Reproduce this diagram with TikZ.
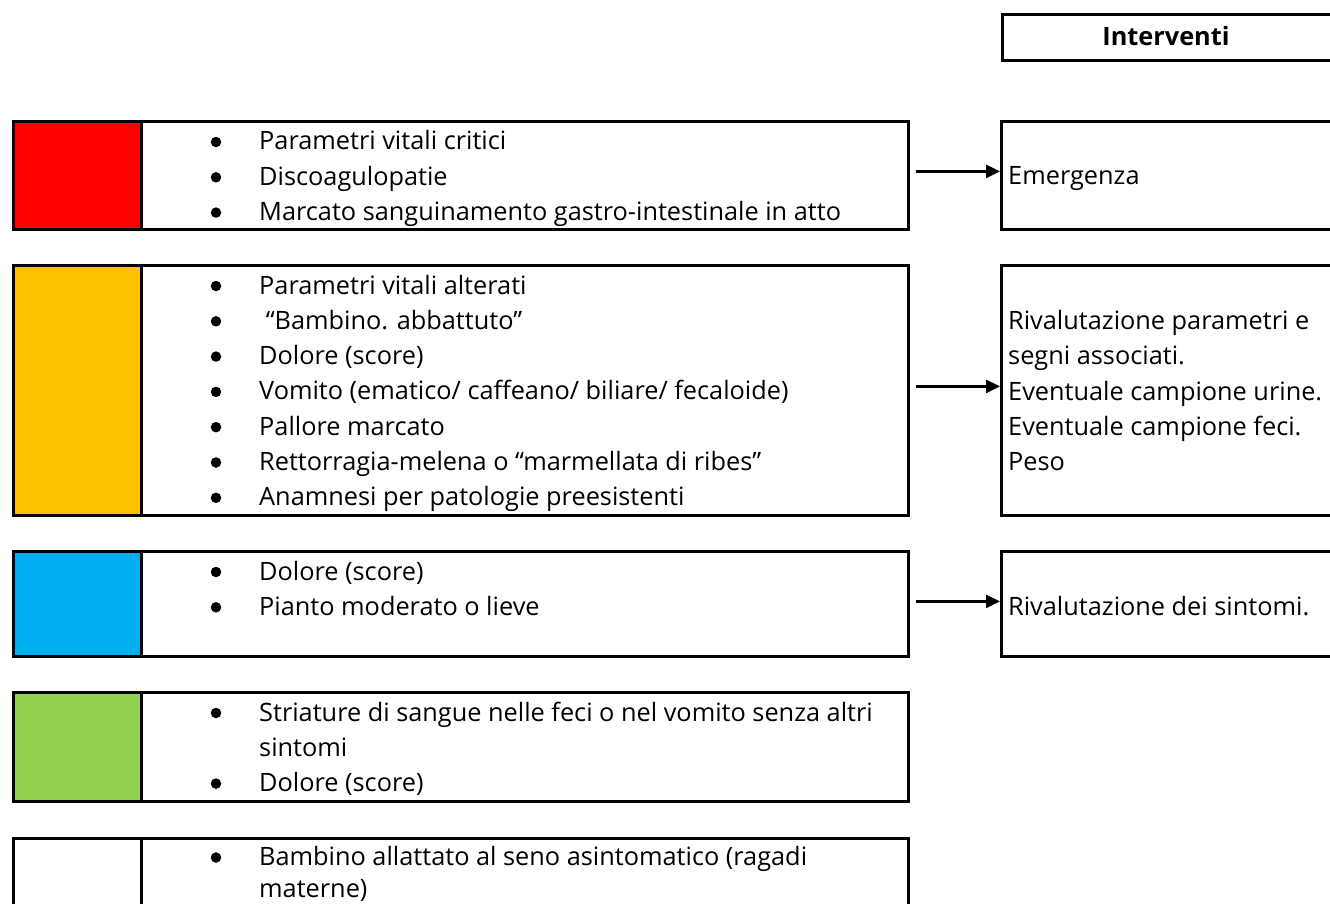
\documentclass[tikz,border=0pt]{standalone}
\usepackage{fontspec}
\setmainfont{Open Sans}
\usetikzlibrary{arrows.meta}
\definecolor{tred}{HTML}{FF0000}
\definecolor{torange}{HTML}{FFC000}
\definecolor{tblue}{HTML}{00B0F0}
\definecolor{tgreen}{HTML}{92D050}
\begin{document}
\begin{tikzpicture}[x=1pt,y=-1pt,
  box/.style={draw=black,line width=2.8pt,inner sep=0pt,anchor=north west},
  codebox/.style={box,minimum width=128pt},
  listbox/.style={box,minimum width=767pt},
  actbox/.style={box,minimum width=345pt},
  txt/.style={anchor=base west,inner sep=0pt,font=\fontsize{25.3}{30}\selectfont},
  dot/.style={circle,fill=black,inner sep=0pt,minimum size=10.5pt},
  link/.style={line width=2.6pt,-{Triangle[length=14pt,width=13pt]}}]
\useasboundingbox (0,0) rectangle (1330,904);

% header
\node[box,minimum width=345pt,minimum height=46pt] (head) at (1001,13) {};
\node[txt,anchor=base,font=\fontsize{25.3}{30}\selectfont\bfseries] (headtxt) at (1166,46) {Interventi};

% red code
\node[codebox,fill=tred,minimum height=108pt] (c1) at (12,120) {};
\node[listbox,minimum height=108pt] (l1) at (140,120) {};
\foreach [count=\i] \t in {Parametri vitali critici,Discoagulopatie,Marcato sanguinamento gastro-intestinale in atto}{
  \node[txt] (l1t\i) at (259,{150+35.3*(\i-1)}) {\t};
  \node[dot] (l1b\i) at (216,{150+35.3*(\i-1)-8}) {};
}
\node[actbox,minimum height=108pt] (a1) at (1000,120) {};
\node[txt] (a1t) at (1008,185) {Emergenza};
\draw[link] ([xshift=6pt,yshift=4pt]l1.east) -- ([yshift=4pt]a1.west);

% orange code
\node[codebox,fill=torange,minimum height=250pt] (c2) at (12,264) {};
\node[listbox,minimum height=250pt] (l2) at (140,264) {};
\foreach [count=\i] \t in {Parametri vitali alterati,\ “Bambino. abbattuto”,Dolore (score),Vomito (ematico/ caffeano/ biliare/ fecaloide),Pallore marcato,Rettorragia-melena o “marmellata di ribes”,Anamnesi per patologie preesistenti}{
  \node[txt] (l2t\i) at (259,{294+35.3*(\i-1)}) {\t};
  \node[dot] (l2b\i) at (216,{294+35.3*(\i-1)-8}) {};
}
\node[actbox,minimum height=250pt] (a2) at (1000,264) {};
\foreach [count=\i] \t in {Rivalutazione parametri e,segni associati.,Eventuale campione urine.,Eventuale campione feci.,Peso}{
  \node[txt] (a2t\i) at (1008,{329.5+35.3*(\i-1)}) {\t};
}
\draw[link] ([xshift=6pt,yshift=4pt]l2.east) -- ([yshift=4pt]a2.west);

% blue code
\node[codebox,fill=tblue,minimum height=105pt] (c3) at (12,550) {};
\node[listbox,minimum height=105pt] (l3) at (140,550) {};
\foreach [count=\i] \t in {Dolore (score),Pianto moderato o lieve}{
  \node[txt] (l3t\i) at (259,{580+35.3*(\i-1)}) {\t};
  \node[dot] (l3b\i) at (216,{580+35.3*(\i-1)-8}) {};
}
\node[actbox,minimum height=105pt] (a3) at (1000,550) {};
\node[txt] (a3t) at (1008,615) {Rivalutazione dei sintomi.};
\draw[link] ([xshift=6pt,yshift=2.5pt]l3.east) -- ([yshift=2.5pt]a3.west);

% green code
\node[codebox,fill=tgreen,minimum height=109pt] (c4) at (12,691) {};
\node[listbox,minimum height=109pt] (l4) at (140,691) {};
\node[txt] (l4t1) at (259,721) {Striature di sangue nelle feci o nel vomito senza altri};
\node[dot] (l4b1) at (216,713) {};
\node[txt] (l4t2) at (259,756.3) {sintomi};
\node[txt] (l4t3) at (259,791.6) {Dolore (score)};
\node[dot] (l4b3) at (216,783.6) {};

% white code
\node[codebox,fill=white,minimum height=100pt] (c5) at (12,837) {};
\node[listbox,minimum height=100pt] (l5) at (140,837) {};
\node[txt] (l5t1) at (259,865.5) {Bambino allattato al seno asintomatico (ragadi};
\node[dot] (l5b1) at (216,857.5) {};
\node[txt] (l5t2) at (259,897) {materne)};
\end{tikzpicture}
\end{document}
